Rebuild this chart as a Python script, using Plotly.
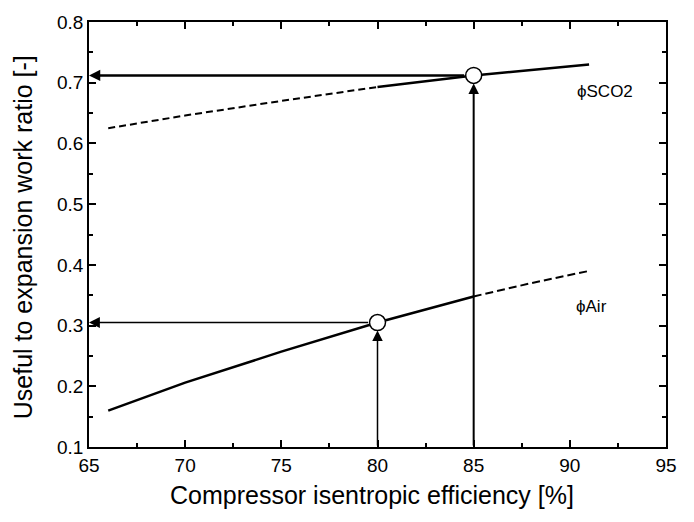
import plotly.graph_objects as go

# ---------------- data ----------------
eff_sco2_dashed = [66, 70, 75, 80]
phi_sco2_dashed = [0.625, 0.646, 0.670, 0.693]
eff_sco2_solid = [80, 82.5, 85, 88, 91]
phi_sco2_solid = [0.693, 0.703, 0.712, 0.721, 0.730]

eff_air_solid = [66, 70, 75, 80, 85]
phi_air_solid = [0.160, 0.206, 0.257, 0.305, 0.348]
eff_air_dashed = [85, 88, 91]
phi_air_dashed = [0.348, 0.370, 0.390]

design_eff = [80, 85]          # Air, sCO2
design_phi = [0.305, 0.712]

x_ticks = [65, 70, 75, 80, 85, 90, 95]
y_ticks = [0.1, 0.2, 0.3, 0.4, 0.5, 0.6, 0.7, 0.8]
x_range = [65, 95]
y_range = [0.1, 0.8]

FONT = "Arial, Liberation Sans, sans-serif"

fig = go.Figure()
fig.add_trace(go.Scatter(x=eff_sco2_dashed, y=phi_sco2_dashed, mode="lines",
                         line=dict(color="black", width=2, dash="7px,4px"), showlegend=False))
fig.add_trace(go.Scatter(x=eff_sco2_solid, y=phi_sco2_solid, mode="lines",
                         line=dict(color="black", width=2.5), showlegend=False))
fig.add_trace(go.Scatter(x=eff_air_solid, y=phi_air_solid, mode="lines",
                         line=dict(color="black", width=2.5), showlegend=False))
fig.add_trace(go.Scatter(x=eff_air_dashed, y=phi_air_dashed, mode="lines",
                         line=dict(color="black", width=2, dash="8px,4px"), showlegend=False))

# arrows: horizontal to y-axis, vertical from x-axis
arrow_style = [  # (horizontal width, size), (vertical width, size)
    ((1.5, 1.45), (1.5, 1.4)),
    ((2.5, 0.9), (2.0, 1.05)),
]
for (ex, ph), ((hw, hs), (vw, vs)) in zip(zip(design_eff, design_phi), arrow_style):
    fig.add_annotation(x=x_range[0], y=ph, ax=ex, ay=ph, xref="x", yref="y",
                       axref="x", ayref="y", showarrow=True, text="",
                       arrowhead=2, arrowwidth=hw, arrowsize=hs, arrowcolor="black",
                       startstandoff=8)
    fig.add_annotation(x=ex, y=ph, ax=ex, ay=y_range[0], xref="x", yref="y",
                       axref="x", ayref="y", showarrow=True, text="",
                       arrowhead=2, arrowwidth=vw, arrowsize=vs, arrowcolor="black",
                       standoff=8)

fig.add_trace(go.Scatter(x=design_eff, y=design_phi, mode="markers",
                         marker=dict(size=16, color="white", line=dict(color="black", width=1.5)),
                         showlegend=False))

# curve labels
fig.add_annotation(x=90.25, y=0.686, xref="x", yref="y", text="ϕSCO2", showarrow=False,
                   xanchor="left", yanchor="middle", font=dict(family=FONT, size=17, color="black"))
fig.add_annotation(x=90.2, y=0.332, xref="x", yref="y", text="ϕAir", showarrow=False,
                   xanchor="left", yanchor="middle", font=dict(family=FONT, size=17, color="black"))

# axis titles
fig.add_annotation(x=0.49, y=-0.112, xref="paper", yref="paper",
                   text="Compressor isentropic efficiency [%]", showarrow=False,
                   xanchor="center", yanchor="middle", font=dict(family=FONT, size=25, color="black"))
fig.add_annotation(x=-0.113, y=0.493, xref="paper", yref="paper", textangle=-90,
                   text="Useful to expansion work ratio [-]", showarrow=False,
                   xanchor="center", yanchor="middle", font=dict(family=FONT, size=25, color="black"))

axis_common = dict(showline=True, linecolor="black", linewidth=1.5, mirror="ticks",
                   ticks="inside", ticklen=7, tickwidth=1.5, tickcolor="black",
                   showgrid=False, zeroline=False,
                   tickfont=dict(family=FONT, size=19, color="black"))
fig.update_xaxes(range=x_range, tickvals=x_ticks, ticktext=[str(v) for v in x_ticks],
                 minor=dict(dtick=2.5, ticks="inside", ticklen=4, tickwidth=1.5, tickcolor="black"),
                 **axis_common)
fig.update_yaxes(range=y_range, tickvals=y_ticks, ticktext=[f"{v:.1f}" for v in y_ticks],
                 minor=dict(dtick=0.05, tick0=0.1, ticks="inside", ticklen=4, tickwidth=1.5, tickcolor="black"),
                 **axis_common)

fig.update_layout(width=694, height=522, margin=dict(l=89, r=28, t=17, b=75),
                  plot_bgcolor="white", paper_bgcolor="white",
                  font=dict(family=FONT, color="black"))

fig.write_html("out.html")
